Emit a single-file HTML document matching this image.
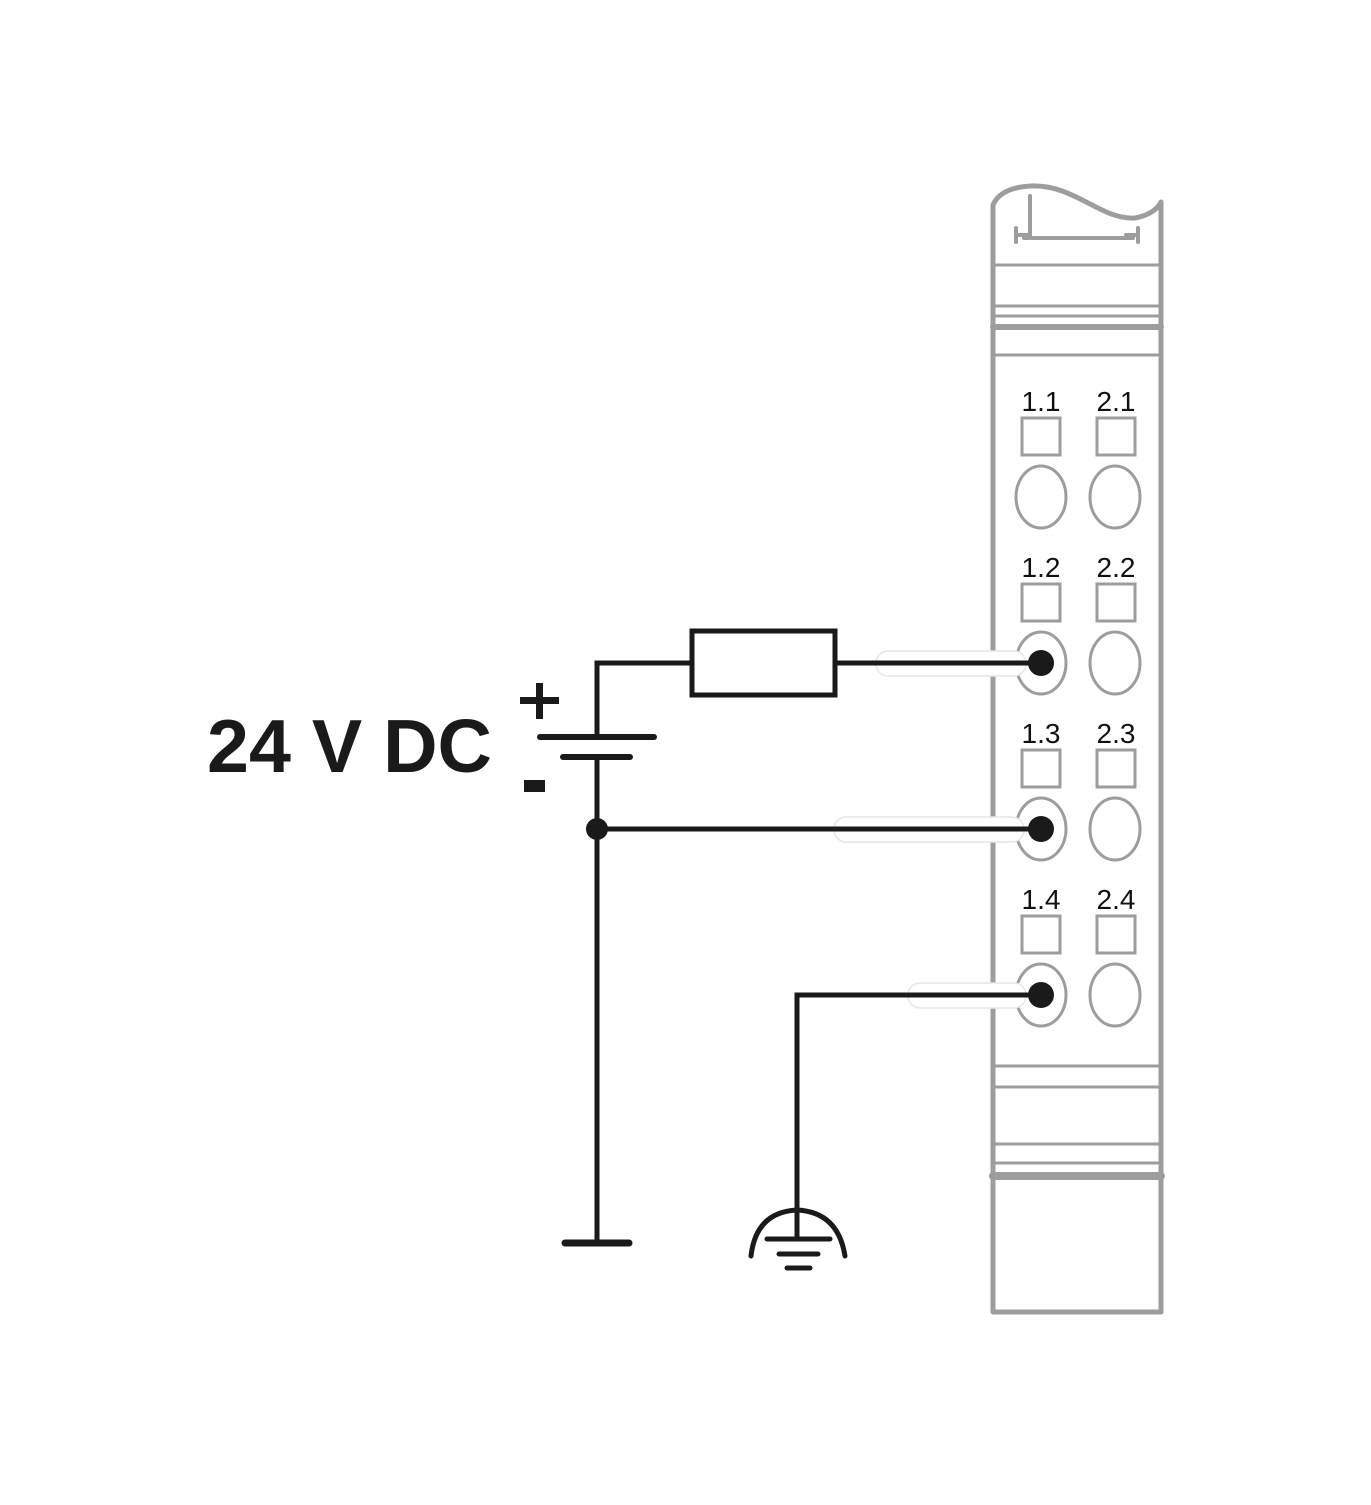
<!DOCTYPE html>
<html><head><style>html,body{margin:0;padding:0;background:#fff}</style></head>
<body>
<svg width="1371" height="1500" viewBox="0 0 1371 1500" xmlns="http://www.w3.org/2000/svg">
<g fill="none" stroke="#9d9d9d" stroke-width="5" stroke-linecap="round" stroke-linejoin="round">
  <path d="M993,1312 L993,205 Q1000,188 1030,186 C1075,184 1100,220 1135,218 Q1155,214 1161,202 L1161,1312 Z"/>
  <line x1="1030" y1="196" x2="1030" y2="236" stroke-width="4"/>
  <line x1="1024" y1="238" x2="1133" y2="238" stroke-width="4"/>
  <line x1="1016" y1="228" x2="1016" y2="242" stroke-width="4"/>
  <line x1="1016" y1="235" x2="1030" y2="235" stroke-width="4"/>
  <line x1="1138" y1="228" x2="1138" y2="242" stroke-width="4"/>
  <line x1="1126" y1="235" x2="1138" y2="235" stroke-width="4"/>
  <line x1="993" y1="265" x2="1161" y2="265" stroke-width="3"/>
  <line x1="993" y1="306" x2="1161" y2="306" stroke-width="3"/>
  <line x1="993" y1="316" x2="1161" y2="316" stroke-width="3"/>
  <line x1="993" y1="327" x2="1161" y2="327" stroke-width="6"/>
  <line x1="993" y1="355" x2="1161" y2="355" stroke-width="3"/>
  <line x1="993" y1="1066" x2="1161" y2="1066" stroke-width="3"/>
  <line x1="993" y1="1087" x2="1161" y2="1087" stroke-width="3"/>
  <line x1="993" y1="1144" x2="1161" y2="1144" stroke-width="3"/>
  <line x1="993" y1="1163" x2="1161" y2="1163" stroke-width="3"/>
  <line x1="993" y1="1176" x2="1161" y2="1176" stroke-width="8"/>
</g>
<g fill="none" stroke="#9d9d9d" stroke-width="3">
  <rect x="1022" y="418" width="38" height="37"/><rect x="1097" y="418" width="38" height="37"/>
  <rect x="1022" y="584" width="38" height="37"/><rect x="1097" y="584" width="38" height="37"/>
  <rect x="1022" y="750" width="38" height="37"/><rect x="1097" y="750" width="38" height="37"/>
  <rect x="1022" y="916" width="38" height="37"/><rect x="1097" y="916" width="38" height="37"/>
  <ellipse cx="1041" cy="497" rx="25" ry="31"/><ellipse cx="1115" cy="497" rx="25" ry="31"/>
  <ellipse cx="1041" cy="663" rx="25" ry="31"/><ellipse cx="1115" cy="663" rx="25" ry="31"/>
  <ellipse cx="1041" cy="829" rx="25" ry="31"/><ellipse cx="1115" cy="829" rx="25" ry="31"/>
  <ellipse cx="1041" cy="995" rx="25" ry="31"/><ellipse cx="1115" cy="995" rx="25" ry="31"/>
</g>
<g font-family="Liberation Sans, sans-serif" font-size="28" fill="#111" text-anchor="middle">
  <text x="1041" y="411">1.1</text><text x="1116" y="411">2.1</text>
  <text x="1041" y="577">1.2</text><text x="1116" y="577">2.2</text>
  <text x="1041" y="743">1.3</text><text x="1116" y="743">2.3</text>
  <text x="1041" y="909">1.4</text><text x="1116" y="909">2.4</text>
</g>
<g fill="#fff" stroke="#e6e6e6" stroke-width="1.5">
  <rect x="876" y="651" width="150" height="25" rx="12"/>
  <rect x="834" y="817" width="190" height="25" rx="12"/>
  <rect x="908" y="983" width="118" height="25" rx="12"/>
</g>
<g fill="none" stroke="#1a1a1a" stroke-width="5" stroke-linecap="round" stroke-linejoin="miter">
  <polyline points="1041,663 597,663 597,737"/>
  <rect x="692" y="631" width="143" height="64" fill="#fff"/>
  <line x1="540" y1="737" x2="654" y2="737" stroke-width="6"/>
  <line x1="563" y1="757" x2="630" y2="757" stroke-width="6"/>
  <line x1="597" y1="757" x2="597" y2="1243"/>
  <line x1="565" y1="1243" x2="629" y2="1243" stroke-width="7"/>
  <line x1="597" y1="829" x2="1041" y2="829"/>
  <polyline points="1041,995 797,995 797,1238"/>
  <path d="M751,1256 Q756,1212 797,1210 Q838,1212 845,1256" stroke-width="5"/>
  <line x1="767" y1="1239" x2="830" y2="1239" stroke-width="5"/>
  <line x1="779" y1="1254" x2="818" y2="1254" stroke-width="5"/>
  <line x1="787" y1="1268" x2="810" y2="1268" stroke-width="5"/>
</g>
<g fill="#1a1a1a">
  <circle cx="1041" cy="663" r="13"/><circle cx="1041" cy="829" r="13"/><circle cx="1041" cy="995" r="13"/>
  <circle cx="597" cy="829" r="11"/>
  <rect x="520" y="697" width="39" height="7"/><rect x="536" y="683" width="7" height="36"/>
  <rect x="524" y="780" width="21" height="12"/>
</g>
<text x="207" y="772" font-family="Liberation Sans, sans-serif" font-weight="bold" font-size="75" fill="#1a1a1a" textLength="285" lengthAdjust="spacingAndGlyphs">24 V DC</text>
</svg>
</body></html>
